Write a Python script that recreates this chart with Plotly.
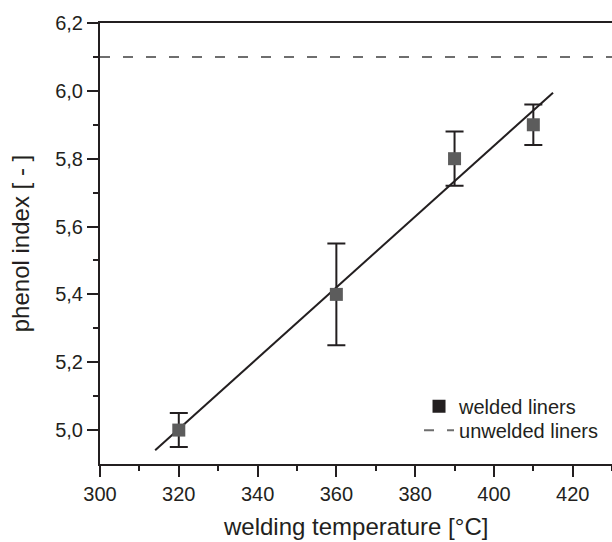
import numpy as np
import plotly.graph_objects as go

# data
temperature = [320, 360, 390, 410]
phenol_index = [5.0, 5.4, 5.8, 5.9]
err_plus = [0.05, 0.15, 0.08, 0.06]
err_minus = [0.05, 0.15, 0.08, 0.06]
unwelded_value = 6.1
fit_extent = [314, 415]

x_ticks = [300, 320, 340, 360, 380, 400, 420]
x_ticktext = ["300", "320", "340", "360", "380", "400", "420"]
x_minor = [310, 330, 350, 370, 390, 410, 430]
y_ticks = [5.0, 5.2, 5.4, 5.6, 5.8, 6.0, 6.2]
y_ticktext = ["5,0", "5,2", "5,4", "5,6", "5,8", "6,0", "6,2"]
y_minor = [5.1, 5.3, 5.5, 5.7, 5.9, 6.1]

x_range = [300, 432]
y_range = [4.9, 6.2]

slope, intercept = np.polyfit(temperature, phenol_index, 1)
fit_x = np.array(fit_extent, dtype=float)
fit_y = slope * fit_x + intercept

ink = "#231f20"
font = "Liberation Sans, Arial, sans-serif"

fig = go.Figure()

# unwelded reference line
fig.add_trace(go.Scatter(
    x=x_range, y=[unwelded_value, unwelded_value], mode="lines",
    line=dict(color="#6e6e6e", width=2, dash="10px,13px"),
    showlegend=False, hoverinfo="skip"))

# linear fit
fig.add_trace(go.Scatter(
    x=fit_x, y=fit_y, mode="lines",
    line=dict(color=ink, width=2), showlegend=False, hoverinfo="skip"))

# data with error bars
fig.add_trace(go.Scatter(
    x=temperature, y=phenol_index, mode="markers",
    marker=dict(symbol="square", size=13, color="#5c5c5c"),
    error_y=dict(type="data", array=err_plus, arrayminus=err_minus,
                 color=ink, thickness=2, width=9, symmetric=False),
    showlegend=False))

# legend entries
fig.add_trace(go.Scatter(
    x=[None], y=[None], mode="markers", name="welded liners",
    marker=dict(symbol="square", size=13, color=ink), legend="legend"))
fig.add_trace(go.Scatter(
    x=[None], y=[None], mode="lines", name="unwelded liners",
    line=dict(color="#6e6e6e", width=2, dash="10px,13px"), legend="legend2"))

legend_common = dict(xanchor="left", yanchor="top", bgcolor="rgba(0,0,0,0)",
                     font=dict(size=20), itemwidth=30)

fig.update_layout(
    width=620, height=542,
    margin=dict(l=100, r=0, t=23, b=78),
    plot_bgcolor="white", paper_bgcolor="white",
    font=dict(family=font, size=20, color=ink),
    legend=dict(x=0.6135, y=0.175, **legend_common),
    legend2=dict(x=0.6135, y=0.121, **legend_common),
    annotations=[dict(text="welding temperature [°C]", xref="paper",
                      yref="paper", x=0.4923, y=0, xanchor="center",
                      yanchor="bottom", yshift=-78, showarrow=False,
                      font=dict(size=24))],
    xaxis=dict(
        range=x_range, tickvals=x_ticks, ticktext=x_ticktext,
        showgrid=False, zeroline=False, showline=True, linecolor=ink,
        linewidth=2, mirror=True, ticks="outside", ticklen=11, tickwidth=2,
        tickcolor=ink, tickfont=dict(size=20),
        minor=dict(tickvals=x_minor, showgrid=False,
                   ticks="outside", ticklen=5, tickwidth=2, tickcolor=ink)),
    yaxis=dict(
        range=y_range, tickvals=y_ticks, ticktext=y_ticktext,
        showgrid=False, zeroline=False, showline=True, linecolor=ink,
        linewidth=2, mirror=False, ticks="outside", ticklen=11, tickwidth=2,
        tickcolor=ink, tickfont=dict(size=20),
        minor=dict(tickvals=y_minor, showgrid=False,
                   ticks="outside", ticklen=5, tickwidth=2, tickcolor=ink),
        title=dict(text="phenol index [ - ]", font=dict(size=24),
                   standoff=19)),
)

fig.write_html("out.html", config={"displayModeBar": False},
               post_script="document.body.style.margin='0';document.body.style.overflow='hidden';")
